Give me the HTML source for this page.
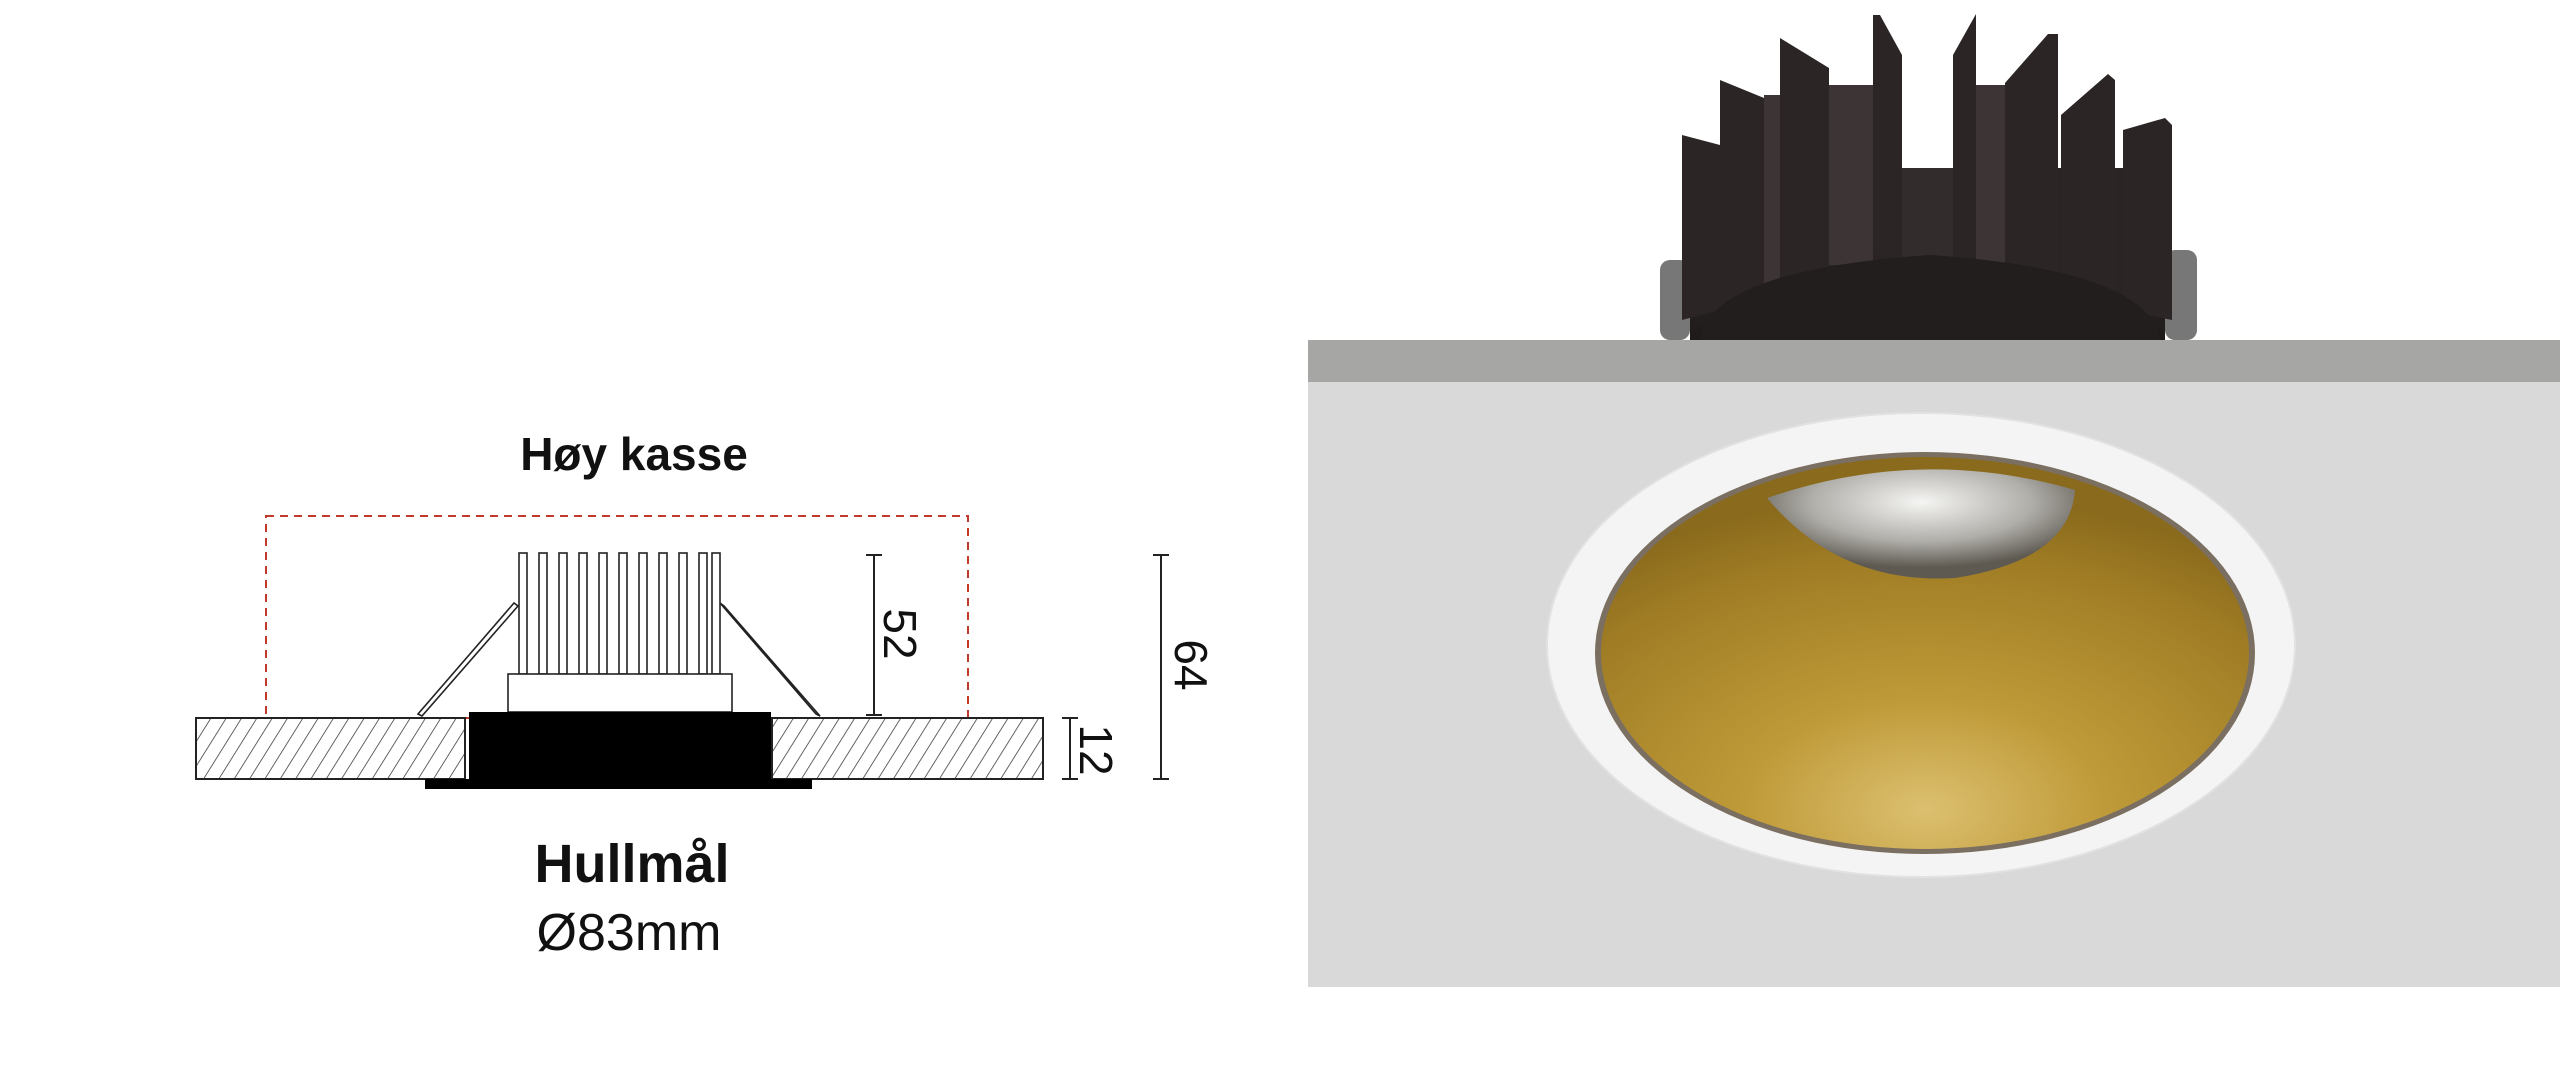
<!DOCTYPE html>
<html><head><meta charset="utf-8"><style>
html,body{margin:0;padding:0;background:#fff;width:2560px;height:1078px;overflow:hidden}
svg{display:block}
</style></head><body>
<svg width="2560" height="1078" viewBox="0 0 2560 1078" xmlns="http://www.w3.org/2000/svg">
<defs>
<pattern id="hatch" patternUnits="userSpaceOnUse" width="13" height="13" patternTransform="rotate(32)">
<line x1="0" y1="0" x2="0" y2="13" stroke="#333" stroke-width="1.5"/>
</pattern>
<radialGradient id="gold" cx="0.5" cy="0.9" r="0.8">
<stop offset="0" stop-color="#dcc070"/>
<stop offset="0.35" stop-color="#bf9a38"/>
<stop offset="0.8" stop-color="#a07d25"/>
<stop offset="1" stop-color="#8a6a1c"/>
</radialGradient>
<radialGradient id="refl" cx="0.5" cy="0.3" r="0.6">
<stop offset="0" stop-color="#f5f5f3"/>
<stop offset="0.6" stop-color="#b0aea9"/>
<stop offset="1" stop-color="#5e5a52"/>
</radialGradient>
<linearGradient id="sink" x1="0" x2="0" y1="0" y2="1">
<stop offset="0" stop-color="#3a3333"/>
<stop offset="1" stop-color="#1e1a1a"/>
</linearGradient>
</defs>

<!-- LEFT DIAGRAM -->
<text x="634" y="470" font-family="Liberation Sans, sans-serif" font-weight="bold" font-size="46" text-anchor="middle" fill="#111">Høy kasse</text>
<rect x="266" y="516" width="702" height="202" fill="none" stroke="#c0392b" stroke-width="2" stroke-dasharray="8,6"/>
<g fill="#fff" stroke="#222" stroke-width="1.6">
<rect x="519" y="553" width="8" height="121"/><rect x="539" y="553" width="8" height="121"/>
<rect x="559" y="553" width="8" height="121"/><rect x="579" y="553" width="8" height="121"/>
<rect x="599" y="553" width="8" height="121"/><rect x="619" y="553" width="8" height="121"/>
<rect x="639" y="553" width="8" height="121"/><rect x="659" y="553" width="8" height="121"/>
<rect x="679" y="553" width="8" height="121"/><rect x="699" y="553" width="8" height="121"/>
<rect x="712" y="553" width="8" height="121"/>
<rect x="508" y="674" width="224" height="38"/>
</g>
<polygon points="418,714 422,716 518,606 514,603" fill="#fff" stroke="#222" stroke-width="1.6"/>
<polygon points="720,603 724,606 820,716 816,714" fill="#fff" stroke="#222" stroke-width="1.6"/>
<rect x="196" y="718" width="269" height="61" fill="url(#hatch)" stroke="#222" stroke-width="2"/>
<rect x="772" y="718" width="271" height="61" fill="url(#hatch)" stroke="#222" stroke-width="2"/>
<rect x="469" y="712" width="302" height="67" fill="#000"/>
<rect x="425" y="779" width="387" height="10" fill="#000"/>
<g stroke="#222" stroke-width="2">
<line x1="874" y1="555" x2="874" y2="715"/><line x1="866" y1="555" x2="882" y2="555"/><line x1="866" y1="715" x2="882" y2="715"/>
<line x1="1161" y1="555" x2="1161" y2="779"/><line x1="1153" y1="555" x2="1169" y2="555"/><line x1="1153" y1="779" x2="1169" y2="779"/>
<line x1="1070" y1="718" x2="1070" y2="779"/><line x1="1062" y1="718" x2="1078" y2="718"/><line x1="1062" y1="779" x2="1078" y2="779"/>
</g>
<g font-family="Liberation Sans, sans-serif" font-size="46" fill="#111" text-anchor="middle">
<text transform="translate(884,634) rotate(90)">52</text>
<text transform="translate(1175,665) rotate(90)">64</text>
<text transform="translate(1080,750) rotate(90)">12</text>
</g>
<text x="632" y="882" font-family="Liberation Sans, sans-serif" font-weight="bold" font-size="54" text-anchor="middle" fill="#111">Hullmål</text>
<text x="629" y="950" font-family="Liberation Sans, sans-serif" font-size="52" text-anchor="middle" fill="#111">Ø83mm</text>

<!-- RIGHT PHOTO -->
<rect x="1660" y="260" width="30" height="80" rx="10" fill="#777"/>
<rect x="2165" y="250" width="32" height="90" rx="10" fill="#777"/>
<path d="M1690,250 L1690,340 L2165,340 L2165,250 Q1930,200 1690,250 Z" fill="url(#sink)"/>
<rect x="1700" y="168" width="455" height="130" fill="#2a2424"/>
<rect x="1902" y="168" width="51" height="110" fill="#332c2c"/>
<g fill="#2b2525">
<polygon points="1682,135 1720,145 1720,310 1682,320"/>
<polygon points="1720,80 1764,98 1764,300 1720,310"/>
<polygon points="1780,38 1829,68 1829,280 1780,290"/>
<polygon points="1873,15 1880,15 1902,55 1902,255 1873,255"/>
<polygon points="1953,55 1976,14 1976,255 1953,255"/>
<polygon points="2005,83 2048,34 2058,34 2058,285 2005,280"/>
<polygon points="2061,115 2108,74 2115,80 2115,300 2061,290"/>
<polygon points="2123,130 2165,118 2172,125 2172,320 2123,310"/>
</g>
<g fill="#3d3535">
<rect x="1764" y="95" width="16" height="200"/>
<rect x="1829" y="85" width="44" height="180"/>
<rect x="1976" y="85" width="29" height="180"/>
</g>
<path d="M1700,340 Q1710,270 1930,255 Q2150,270 2160,340 Z" fill="#231e1e"/>
<rect x="1308" y="340" width="1252" height="42" fill="#a6a6a5"/>
<rect x="1308" y="382" width="1252" height="605" fill="#d9d9d9"/>
<ellipse cx="1921" cy="645" rx="374" ry="232" fill="#f4f4f4" stroke="#e2e2e2" stroke-width="2"/>
<ellipse cx="1925" cy="653" rx="330" ry="201" fill="#7a6f60"/>
<ellipse cx="1925" cy="653" rx="324" ry="196" fill="url(#gold)"/>
<path d="M1767,498 Q1920,445 2075,490 Q2070,560 1955,578 Q1840,585 1767,498 Z" fill="url(#refl)"/>
</svg>
</body></html>
